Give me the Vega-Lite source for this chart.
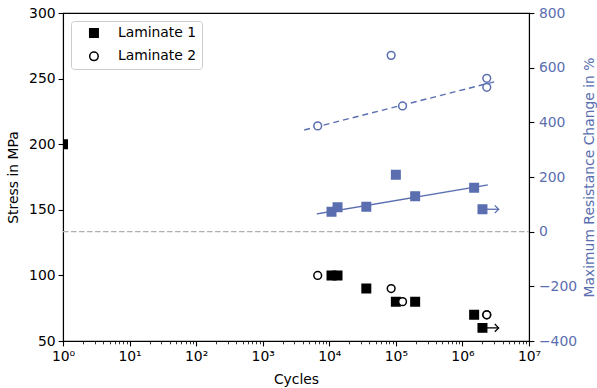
{
  "$schema": "https://vega.github.io/schema/vega-lite/v6.json",
  "width": 466,
  "height": 328,
  "autosize": {"type": "none"},
  "padding": {"left": 63, "top": 13, "right": 68, "bottom": 47},
  "background": "white",
  "config": {
    "font": "DejaVu Sans",
    "view": {"stroke": "black", "strokeWidth": 1.1},
    "axis": {"labelFont": "DejaVu Sans", "titleFont": "DejaVu Sans", "labelFontSize": 13.9, "titleFontSize": 13.9, "titleFontWeight": "normal", "labelColor": "black", "titleColor": "black", "tickColor": "black", "domainColor": "black", "domainWidth": 1.1, "tickWidth": 1.1, "tickSize": 4.9, "grid": false, "labelPadding": 3},
    "legend": {"orient": "top-left", "offset": 8, "strokeColor": "#cccccc", "fillColor": "white", "cornerRadius": 3, "padding": 5, "labelFont": "DejaVu Sans", "labelFontSize": 13.9, "labelColor": "black", "symbolSize": 72, "symbolStrokeWidth": 1.5, "rowPadding": 7.4, "labelOffset": 17, "symbolOffset": 11}
  },
  "datasets": {
    "points": [
      {"cycles": 1, "stress": 200, "resistance": null, "series": "Laminate 1"},
      {"cycles": 10800, "stress": 100, "resistance": 73, "series": "Laminate 1"},
      {"cycles": 13300, "stress": 100, "resistance": 89, "series": "Laminate 1"},
      {"cycles": 36000, "stress": 90, "resistance": 91, "series": "Laminate 1"},
      {"cycles": 100000, "stress": 80, "resistance": 208, "series": "Laminate 1"},
      {"cycles": 195000, "stress": 80, "resistance": 130, "series": "Laminate 1"},
      {"cycles": 1500000, "stress": 70, "resistance": 161, "series": "Laminate 1"},
      {"cycles": 2000000, "stress": 60, "resistance": 82, "series": "Laminate 1"},
      {"cycles": 6700, "stress": 100, "resistance": 387, "series": "Laminate 2"},
      {"cycles": 85000, "stress": 90, "resistance": 645, "series": "Laminate 2"},
      {"cycles": 126000, "stress": 80, "resistance": 460, "series": "Laminate 2"},
      {"cycles": 2320000, "stress": 70, "resistance": 561, "series": "Laminate 2"},
      {"cycles": 2320000, "stress": 70, "resistance": 528, "series": "Laminate 2"}
    ],
    "fits": [
      {"cycles": 6500, "resistance": 65, "series": "Laminate 1"},
      {"cycles": 2400000, "resistance": 171, "series": "Laminate 1"},
      {"cycles": 4200, "resistance": 372, "series": "Laminate 2"},
      {"cycles": 3100000, "resistance": 549, "series": "Laminate 2"}
    ],
    "runouts": [
      {"cycles": 2000000, "end": 3500000, "stress": 60, "resistance": 82}
    ],
    "zero": [{"resistance": 0}]
  },
  "encoding": {
    "x": {
      "field": "cycles", "type": "quantitative",
      "scale": {"type": "log", "domain": [1, 10000000], "nice": false},
      "axis": {
        "title": "Cycles", "orient": "bottom", "titlePadding": 9,
        "values": [1,2,3,4,5,6,7,8,9,10,20,30,40,50,60,70,80,90,100,200,300,400,500,600,700,800,900,1000,2000,3000,4000,5000,6000,7000,8000,9000,10000,20000,30000,40000,50000,60000,70000,80000,90000,100000,200000,300000,400000,500000,600000,700000,800000,900000,1000000,2000000,3000000,4000000,5000000,6000000,7000000,8000000,9000000,10000000],
        "labelExpr": "indexof([1,10,100,1000,10000,100000,1000000,10000000], datum.value) >= 0 ? '10' + ['⁰','¹','²','³','⁴','⁵','⁶','⁷'][round(log(datum.value)/LN10)] : ''",
        "tickSize": {"condition": {"test": "indexof([1,10,100,1000,10000,100000,1000000,10000000], datum.value) >= 0", "value": 4.9}, "value": 2.8},
        "tickWidth": {"condition": {"test": "indexof([1,10,100,1000,10000,100000,1000000,10000000], datum.value) >= 0", "value": 1.1}, "value": 0.8},
        "labelOverlap": false, "labelFlush": false, "labelBound": false, "labelPadding": 4
      }
    }
  },
  "layer": [
    {
      "encoding": {
        "y": {"field": "stress", "type": "quantitative", "scale": {"domain": [50, 300], "nice": false, "zero": false},
          "axis": {"orient": "left", "title": "Stress in MPa", "values": [50, 100, 150, 200, 250, 300], "titlePadding": 8}}
      },
      "layer": [
        {"data": {"name": "runouts"}, "mark": {"type": "rule", "color": "black", "strokeWidth": 1.3}, "encoding": {"x2": {"field": "end"}}},
        {"data": {"name": "runouts"}, "mark": {"type": "point", "shape": "M -1 -1 L 0 0 L -1 1", "filled": false, "color": "black", "strokeWidth": 1.3, "size": 60, "opacity": 1}, "encoding": {"x": {"field": "end", "type": "quantitative"}}},
        {"data": {"name": "points"}, "mark": {"type": "point", "filled": false, "strokeWidth": 1.5, "opacity": 1, "clip": true},
          "encoding": {
            "shape": {"field": "series", "type": "nominal", "scale": {"range": ["square", "circle"]}, "legend": {"title": null}},
            "fill": {"field": "series", "type": "nominal", "scale": {"range": ["black", "white"]}, "legend": {"title": null}},
            "stroke": {"field": "series", "type": "nominal", "scale": {"range": ["black", "black"]}, "legend": {"title": null}},
            "size": {"condition": {"test": "datum.series === 'Laminate 1'", "value": 72}, "value": 60}
          }}
      ]
    },
    {
      "encoding": {
        "y": {"field": "resistance", "type": "quantitative", "scale": {"domain": [-400, 800], "nice": false, "zero": false},
          "axis": {"orient": "right", "title": "Maximum Resistance Change in %", "values": [-400, -200, 0, 200, 400, 600, 800], "labelColor": "#5a6eb0", "titleColor": "#5a6eb0", "labelPadding": 4.5, "titlePadding": 6, "titleAngle": 270, "titleBaseline": "top"}}
      },
      "layer": [
        {"data": {"name": "zero"}, "mark": {"type": "rule", "color": "#b0b0b0", "strokeWidth": 1.2, "strokeDash": [5.5, 2.5]}, "encoding": {"x": {"value": 0}, "x2": {"value": 466}}},
        {"data": {"name": "fits"}, "mark": {"type": "line", "color": "#5a6eb0", "strokeWidth": 1.4},
          "encoding": {"strokeDash": {"field": "series", "type": "nominal", "scale": {"range": [[1, 0], [6, 4]]}, "legend": null}}},
        {"data": {"name": "runouts"}, "mark": {"type": "rule", "color": "#5a6eb0", "strokeWidth": 1.3}, "encoding": {"x2": {"field": "end"}}},
        {"data": {"name": "runouts"}, "mark": {"type": "point", "shape": "M -1 -1 L 0 0 L -1 1", "filled": false, "color": "#5a6eb0", "strokeWidth": 1.3, "size": 60, "opacity": 1}, "encoding": {"x": {"field": "end", "type": "quantitative"}}},
        {"data": {"name": "points"}, "transform": [{"filter": "datum.resistance != null"}],
          "mark": {"type": "point", "filled": true, "stroke": "#5a6eb0", "strokeWidth": 1.5, "opacity": 1},
          "encoding": {
            "shape": {"condition": {"test": "datum.series === 'Laminate 1'", "value": "square"}, "value": "circle"},
            "fill": {"condition": {"test": "datum.series === 'Laminate 1'", "value": "#5a6eb0"}, "value": "white"},
            "size": {"condition": {"test": "datum.series === 'Laminate 1'", "value": 72}, "value": 60}
          }}
      ]
    }
  ],
  "resolve": {"scale": {"y": "independent"}}
}
